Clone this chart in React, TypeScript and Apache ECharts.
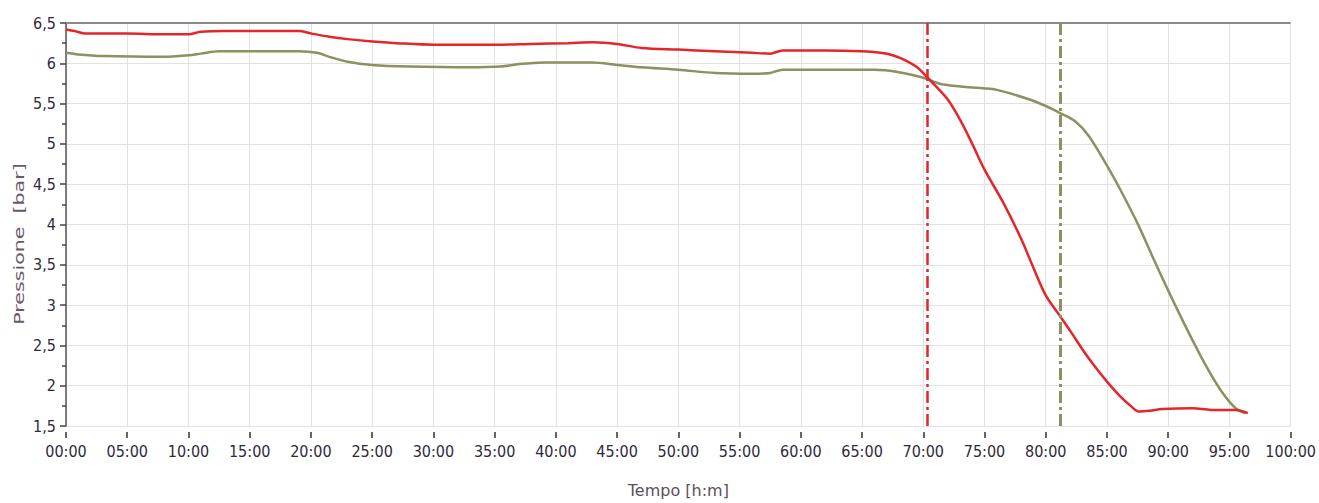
import React, { useEffect, useRef } from "react";
import * as echarts from "echarts";

const xTicks = [0, 5, 10, 15, 20, 25, 30, 35, 40, 45, 50, 55, 60, 65, 70, 75, 80, 85, 90, 95, 100];

const redT = [0, 0.7, 1.5, 5, 8, 10, 11, 13, 19, 20, 21.5, 23, 25, 27, 30, 35, 38, 41, 43, 45, 47, 50, 53, 56, 57.5, 58.5, 62, 65, 66.5, 67.5, 68.5, 69.5, 70.3, 71, 72, 73, 74, 75, 76.5, 78, 79, 80, 81, 82, 83, 84, 85, 86, 87, 87.6, 88.5, 89.5, 92, 93.5, 95.5, 96.5];
const redV = [6.42, 6.40, 6.37, 6.37, 6.36, 6.36, 6.39, 6.40, 6.40, 6.37, 6.33, 6.30, 6.27, 6.25, 6.23, 6.23, 6.24, 6.25, 6.26, 6.24, 6.19, 6.17, 6.15, 6.13, 6.12, 6.16, 6.16, 6.15, 6.13, 6.10, 6.04, 5.95, 5.83, 5.72, 5.55, 5.30, 5.00, 4.68, 4.28, 3.82, 3.46, 3.12, 2.90, 2.68, 2.45, 2.24, 2.05, 1.88, 1.74, 1.68, 1.69, 1.71, 1.72, 1.70, 1.70, 1.66];

const oliveT = [0, 1, 3, 8, 10, 11, 12.5, 19, 20.5, 21.5, 23, 25, 28, 33, 35.5, 37, 39, 43, 45, 47, 50, 53, 56, 57.5, 58.5, 62, 66, 68, 70, 71.5, 74, 76, 78.5, 80, 81.2, 82.4, 83.5, 85, 86.2, 87.6, 88.9, 90, 91.6, 93, 94.3, 95.5, 96.3];
const oliveV = [6.13, 6.11, 6.09, 6.08, 6.10, 6.12, 6.15, 6.15, 6.13, 6.08, 6.02, 5.98, 5.96, 5.95, 5.96, 5.99, 6.01, 6.01, 5.98, 5.95, 5.92, 5.88, 5.87, 5.88, 5.92, 5.92, 5.92, 5.89, 5.82, 5.74, 5.70, 5.67, 5.56, 5.47, 5.38, 5.28, 5.10, 4.73, 4.40, 3.98, 3.54, 3.18, 2.68, 2.27, 1.94, 1.72, 1.66];

const redMarkerT = 70.3;
const oliveMarkerT = 81.2;

const RED = "#e4252a";
const OLIVE = "#8e9060";
const FONT = "'DejaVu Sans Condensed', 'DejaVu Sans', sans-serif";

export default function App() {
  const ref = useRef<HTMLDivElement>(null);
  useEffect(() => {
    if (!ref.current) return;
    const chart = echarts.init(ref.current, null, { renderer: "svg" });
    const pad = (n: number) => (n < 10 ? "0" + n : String(n));
    chart.setOption({
      animation: false,
      backgroundColor: "#ffffff",
      grid: { left: 66, right: 23, top: 23, bottom: 73, containLabel: false },
      xAxis: {
        type: "value",
        min: 0,
        max: 100,
        interval: 5,
        offset: 6,
        name: "Tempo [h:m]",
        nameLocation: "middle",
        nameGap: 50,
        nameTextStyle: { fontFamily: "'DejaVu Sans', sans-serif", fontSize: 16, color: "#5e4f5e" },
        axisLine: { show: false },
        axisTick: { show: true, length: 6, lineStyle: { color: "#333", width: 1.5 } },
        axisLabel: {
          formatter: (v: number) => pad(v) + ":00",
          fontFamily: FONT,
          fontSize: 16,
          color: "#2f2a3a",
          margin: 11,
          customValues: xTicks,
        },
        splitLine: { show: true, lineStyle: { color: "#e2e2e2", width: 1 } },
      },
      yAxis: {
        type: "value",
        min: 1.5,
        max: 6.5,
        interval: 0.5,
        axisLine: { show: true, lineStyle: { color: "#555", width: 1.5 } },
        axisTick: { show: true, length: 6, lineStyle: { color: "#444", width: 1.5 } },
        minorTick: { show: true, splitNumber: 2, length: 4, lineStyle: { color: "#444", width: 1.5 } },
        axisLabel: {
          formatter: (v: number) => String(v).replace(".", ","),
          fontFamily: FONT,
          fontSize: 16,
          color: "#2f2a3a",
          margin: 10,
        },
        splitLine: { show: true, lineStyle: { color: "#e2e2e2", width: 1 } },
      },
      graphic: [
        {
          type: "text",
          x: 19,
          y: 244,
          rotation: Math.PI / 2,
          scaleX: 1.47,
          style: {
            text: "Pressione  [bar]",
            fontFamily: "'DejaVu Sans', sans-serif",
            fontSize: 14,
            fill: "#6a5768",
            align: "center",
            verticalAlign: "middle",
          },
        },
      ],
      series: [
        {
          type: "line",
          data: oliveT.map((t, i) => [t, oliveV[i]]),
          showSymbol: false,
          smooth: 0.3,
          lineStyle: { color: OLIVE, width: 2.5 },
          z: 2,
          markLine: {
            silent: true,
            symbol: "none",
            label: { show: false },
            data: [
              { xAxis: oliveMarkerT, lineStyle: { color: OLIVE, width: 3, type: [12, 4, 3, 4] } },
              { yAxis: 6.5, lineStyle: { color: "#8a8a8a", width: 2, type: "solid" } },
            ],
          },
        },
        {
          type: "line",
          data: redT.map((t, i) => [t, redV[i]]),
          showSymbol: false,
          smooth: 0.3,
          lineStyle: { color: RED, width: 2.5 },
          z: 3,
          markLine: {
            silent: true,
            symbol: "none",
            label: { show: false },
            data: [{ xAxis: redMarkerT, lineStyle: { color: RED, width: 2.5, type: [12, 4, 3, 4] } }],
          },
        },
      ],
    });
    return () => chart.dispose();
  }, []);
  return <div ref={ref} style={{ position: "fixed", left: 0, top: 0, width: 1319, height: 503 }} />;
}
